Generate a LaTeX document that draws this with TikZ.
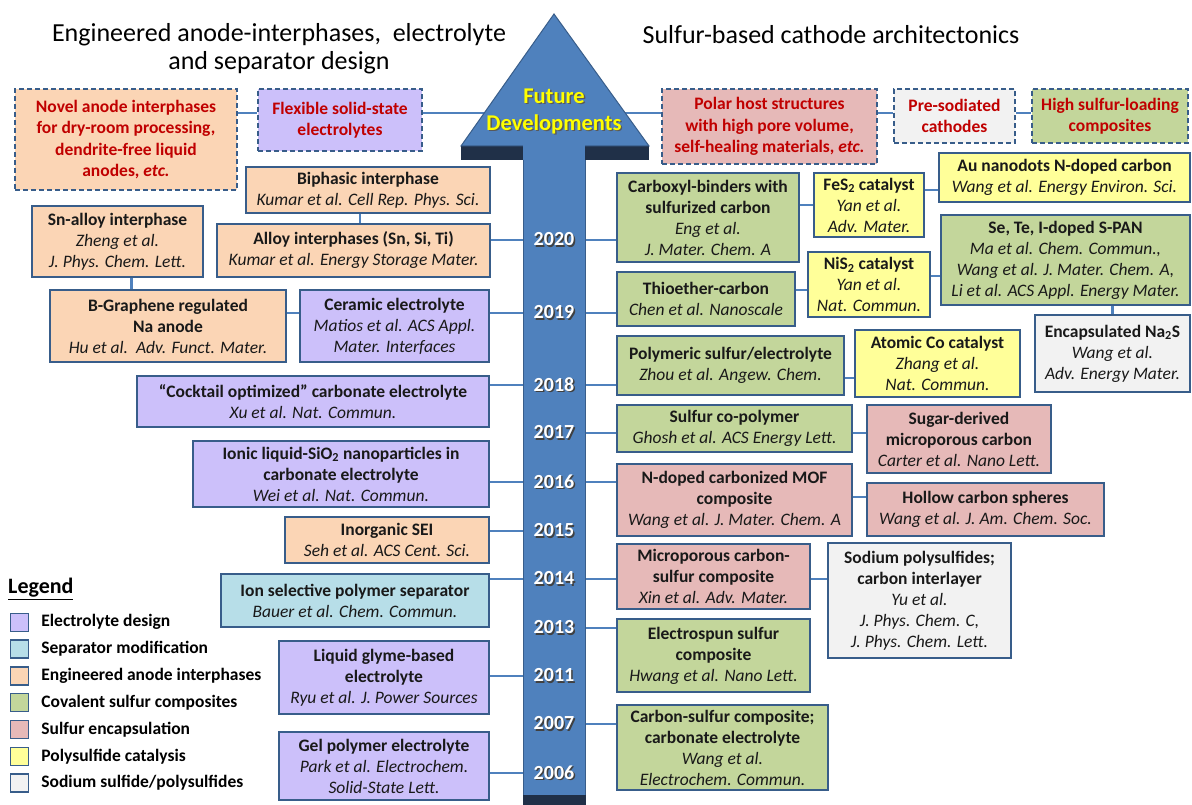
\documentclass[tikz,border=0pt]{standalone}
\usepackage{fontspec}
\setmainfont{Carlito}
\usepackage{xcolor}
\usepackage{tikz}
\usetikzlibrary{positioning}

\definecolor{anodeF}{RGB}{251,213,181}
\definecolor{elecF}{RGB}{204,192,250}
\definecolor{sepF}{RGB}{183,222,232}
\definecolor{covF}{RGB}{195,214,155}
\definecolor{encF}{RGB}{230,185,184}
\definecolor{catF}{RGB}{255,255,153}
\definecolor{nasF}{RGB}{242,242,242}
\definecolor{bdr}{RGB}{56,93,138}
\definecolor{lnk}{RGB}{79,129,189}
\definecolor{arrfill}{RGB}{79,129,189}
\definecolor{arrdark}{RGB}{32,48,72}
\definecolor{planred}{RGB}{192,0,0}
\definecolor{futyel}{RGB}{255,255,0}

\newcommand{\shd}[2]{\makebox[0pt][l]{\hspace{1.4pt}\raisebox{-1.4pt}{\textcolor{#2}{#1}}}#1}

\begin{document}
\begin{tikzpicture}[x=1pt, y=-1pt,
  box/.style={draw=bdr, line width=1.6pt, align=center, inner sep=1pt, text=black!90, font=\fontsize{17.5}{21}\selectfont},
  wh/.style 2 args={minimum width=#1, minimum height=#2},
  anode/.style={box, fill=anodeF},
  elec/.style={box, fill=elecF},
  sepr/.style={box, fill=sepF},
  cov/.style={box, fill=covF},
  enc/.style={box, fill=encF},
  cat/.style={box, fill=catF},
  nas/.style={box, fill=nasF},
  plan/.style={dash pattern=on 5pt off 3pt, text=planred, font=\fontsize{17.5}{21.5}\selectfont\bfseries},
  link/.style={draw=lnk, line width=2.6pt},
  ttl/.style={align=center, inner sep=0pt, font=\fontsize{26}{28}\selectfont},
  yearlbl/.style={text=white, inner sep=0pt, font=\fontsize{20}{24}\selectfont\bfseries},
  futlbl/.style={text=futyel, align=center, inner sep=0pt, font=\fontsize{22.5}{27}\selectfont\bfseries},
  legsq/.style={draw=bdr, line width=1.4pt, minimum size=18pt, inner sep=0pt},
  legtxt/.style={inner sep=0pt, font=\fontsize{17.5}{20}\selectfont\bfseries}]

  \fill[white] (0,0) rectangle (1192,805);
  \useasboundingbox (0,0) rectangle (1192,805);

  \node[ttl] (ttlL) at (279,49) {Engineered anode-interphases,~ electrolyte\\and separator design};
  \node[ttl] (ttlR) at (831,35) {Sulfur-based cathode architectonics};

  % future directions
  \node[anode, plan, wh={222}{101}] (novel) at (126,139.5) {Novel anode interphases\\for dry-room processing,\\dendrite-free liquid\\anodes, \textit{etc.}};
  \node[elec, plan, wh={164}{62}] (flex) at (340,120) {Flexible solid-state\\electrolytes};
  \node[enc, plan, wh={215}{75}] (polar) at (769.5,126.5) {Polar host structures\\with high pore volume,\\self-healing materials, \textit{etc.}};
  \node[nas, plan, wh={121}{54}] (presod) at (954.5,116) {Pre-sodiated\\cathodes};
  \node[cov, plan, wh={156}{54}] (highs) at (1110,116) {High sulfur-loading\\composites};

  % left column
  \node[anode, wh={244}{46}] (biphasic) at (368,190) {\textbf{Biphasic interphase}\\\textit{Kumar et al. Cell Rep. Phys. Sci.}};
  \node[anode, wh={273}{53}] (alloy) at (353.5,250.5) {\textbf{Alloy interphases (Sn, Si, Ti)}\\\textit{Kumar et al. Energy Storage Mater.}};
  \node[anode, wh={171}{71}] (snalloy) at (117.5,241.5) {\textbf{Sn-alloy interphase}\\\textit{Zheng et al.}\\\textit{J. Phys. Chem. Lett.}};
  \node[anode, wh={236}{72}] (bgraph) at (168,326) {\textbf{B-Graphene regulated}\\\textbf{Na anode}\\\textit{Hu et al.\ \ Adv. Funct. Mater.}};
  \node[elec, wh={189}{72}] (ceramic) at (394.5,326) {\textbf{Ceramic electrolyte}\\\textit{Matios et al. ACS Appl.}\\\textit{Mater. Interfaces}};
  \node[elec, wh={352}{51}] (cocktail) at (313,401.5) {\textbf{“Cocktail optimized” carbonate electrolyte}\\\textit{Xu et al. Nat. Commun.}};
  \node[elec, wh={296}{66}] (ionic) at (341,474) {\textbf{Ionic liquid-SiO\textsubscript{2} nanoparticles in}\\\textbf{carbonate electrolyte}\\\textit{Wei et al. Nat. Commun.}};
  \node[anode, wh={204}{46}] (sei) at (387,540) {\textbf{Inorganic SEI}\\\textit{Seh et al. ACS Cent. Sci.}};
  \node[sepr, wh={268}{53}] (ionsel) at (355,600.5) {\textbf{Ion selective polymer separator}\\\textit{Bauer et al. Chem. Commun.}};
  \node[elec, wh={210}{73}] (glyme) at (384,677.5) {\textbf{Liquid glyme-based}\\\textbf{electrolyte}\\\textit{Ryu et al. J. Power Sources}};
  \node[elec, wh={210}{68}] (gel) at (384,766) {\textbf{Gel polymer electrolyte}\\\textit{Park et al. Electrochem.}\\\textit{Solid-State Lett.}};

  % right column
  \node[cov, wh={182}{89}] (carboxyl) at (708,217.5) {\textbf{Carboxyl-binders with}\\\textbf{sulfurized carbon}\\\textit{Eng et al.}\\\textit{J. Mater. Chem. A}};
  \node[cat, wh={110}{64}] (fes2) at (869,205) {\textbf{FeS\textsubscript{2} catalyst}\\\textit{Yan et al.}\\\textit{Adv. Mater.}};
  \node[cat, wh={251}{49}] (au) at (1064.5,177.5) {\textbf{Au nanodots N-doped carbon}\\\textit{Wang et al. Energy Environ. Sci.}};
  \node[cov, wh={178}{54}] (thio) at (706,299) {\textbf{Thioether-carbon}\\\textit{Chen et al. Nanoscale}};
  \node[cat, wh={122}{65}] (nis2) at (869,284.5) {\textbf{NiS\textsubscript{2} catalyst}\\\textit{Yan et al.}\\\textit{Nat. Commun.}};
  \node[cov, wh={249}{90}] (sepan) at (1065.5,260) {\textbf{Se, Te, I-doped S-PAN}\\\textit{Ma et al. Chem. Commun.,}\\\textit{Wang et al. J. Mater. Chem. A,}\\\textit{Li et al. ACS Appl. Energy Mater.}};
  \node[nas, wh={155}{77}] (na2s) at (1112.5,353.5) {\textbf{Encapsulated Na\textsubscript{2}S}\\\textit{Wang et al.}\\\textit{Adv. Energy Mater.}};
  \node[cov, wh={227}{59}] (polym) at (730.5,365.5) {\textbf{Polymeric sulfur/electrolyte}\\\textit{Zhou et al. Angew. Chem.}};
  \node[cat, wh={165}{67}] (atomco) at (937.5,363.5) {\textbf{Atomic Co catalyst}\\\textit{Zhang et al.}\\\textit{Nat. Commun.}};
  \node[cov, wh={235}{47}] (copoly) at (734.5,428.5) {\textbf{Sulfur co-polymer}\\\textit{Ghosh et al. ACS Energy Lett.}};
  \node[enc, wh={184}{68}] (sugar) at (959,439) {\textbf{Sugar-derived}\\\textbf{microporous carbon}\\\textit{Carter et al. Nano Lett.}};
  \node[enc, wh={235}{72}] (mof) at (734.5,500) {\textbf{N-doped carbonized MOF}\\\textbf{composite}\\\textit{Wang et al. J. Mater. Chem. A}};
  \node[enc, wh={237}{53}] (hollow) at (985.5,509.5) {\textbf{Hollow carbon spheres}\\\textit{Wang et al. J. Am. Chem. Soc.}};
  \node[enc, wh={193}{65}] (microp) at (713.5,576.5) {\textbf{Microporous carbon-}\\\textbf{sulfur composite}\\\textit{Xin et al. Adv. Mater.}};
  \node[nas, wh={183}{115}] (sodium) at (919.5,600.5) {\textbf{Sodium polysulfides;}\\\textbf{carbon interlayer}\\\textit{Yu et al.}\\\textit{J. Phys. Chem. C,}\\\textit{J. Phys. Chem. Lett.}};
  \node[cov, wh={193}{73}] (espun) at (713.5,655.5) {\textbf{Electrospun sulfur}\\\textbf{composite}\\\textit{Hwang et al. Nano Lett.}};
  \node[cov, wh={211}{85}] (csc) at (722.5,747.5) {\textbf{Carbon-sulfur composite;}\\\textbf{carbonate electrolyte}\\\textit{Wang et al.}\\\textit{Electrochem. Commun.}};

  \foreach \yr/\yy in {2020/240, 2019/313, 2018/385, 2017/433, 2016/482, 2015/531, 2014/579, 2013/628, 2011/676, 2007/724, 2006/773}
    \coordinate (c\yr) at (554,\yy);
  \coordinate (cfut) at (554,113);

  % connectors
  \draw[link] (novel.east |- cfut) -- (flex.west |- cfut);
  \draw[link] (flex.east |- cfut) -- (polar.west |- cfut);
  \draw[link] (polar.east |- cfut) -- (presod.west |- cfut);
  \draw[link] (presod.east |- cfut) -- (highs.west |- cfut);

  \draw[link] ([xshift=-8pt]biphasic.south) -- ([xshift=-8pt]biphasic.south |- alloy.north);
  \draw[link] ([xshift=14pt]snalloy.south) -- ([xshift=14pt]snalloy.south |- bgraph.north);
  \draw[link] (bgraph.east |- c2019) -- (ceramic.west |- c2019);
  \draw[link] (carboxyl.east |- fes2.west) -- (fes2.west);
  \draw[link] (fes2.east |- 0,190) -- (au.west |- 0,190);
  \draw[link] (thio.east |- 0,290) -- (nis2.west |- 0,290);
  \draw[link] (nis2.east |- 0,276) -- (sepan.west |- 0,276);
  \draw[link] (sepan.south -| na2s.north) -- (na2s.north);
  \draw[link] (polym.east |- 0,378) -- (atomco.west |- 0,378);
  \draw[link] (copoly.east |- c2017) -- (sugar.west |- c2017);
  \draw[link] (mof.east |- 0,497) -- (hollow.west |- 0,497);
  \draw[link] (microp.east |- c2014) -- (sodium.west |- c2014);

  \draw[link] (alloy.east |- c2020) -- (c2020) -- (carboxyl.west |- c2020);
  \draw[link] (ceramic.east |- c2019) -- (c2019) -- (thio.west |- c2019);
  \draw[link] (cocktail.east |- c2018) -- (c2018) -- (polym.west |- c2018);
  \draw[link] (c2017) -- (copoly.west |- c2017);
  \draw[link] (ionic.east |- c2016) -- (c2016) -- (mof.west |- c2016);
  \draw[link] (sei.east |- c2015) -- (c2015);
  \draw[link] (ionsel.east |- c2014) -- (c2014) -- (microp.west |- c2014);
  \draw[link] (c2013) -- (espun.west |- c2013);
  \draw[link] (glyme.east |- c2011) -- (c2011);
  \draw[link] (c2007) -- (csc.west |- c2007);
  \draw[link] (gel.east |- c2006) -- (c2006);

  % timeline arrow
  \fill[arrdark] (461,146) rectangle (649,160);
  \filldraw[fill=arrfill, draw=bdr, line width=1pt] (461,146) -- (554,14) -- (649,146) -- cycle;
  \fill[arrfill] (523,145) rectangle (585,795);
  \draw[bdr, line width=1pt] (523,160) -- (523,795) (585,160) -- (585,795);
  \fill[arrdark] (522.5,795) rectangle (585.5,805);

  \node[futlbl] (futtxt) at (554,112) {\shd{Future}{black!65}\\\shd{Developments}{black!65}};
  \foreach \yr in {2020,2019,2018,2017,2016,2015,2014,2013,2011,2007,2006}
    \node[yearlbl] (y\yr) at (c\yr) {\shd{\yr}{black!75}};

  % legend
  \node[anchor=west, inner sep=0pt, font=\fontsize{22}{24}\selectfont\bfseries] (leg) at (8,589) {\underline{Legend}};
  \foreach \col/\txt [count=\i] in {elecF/Electrolyte design, sepF/Separator modification, anodeF/Engineered anode interphases, covF/Covalent sulfur composites, encF/Sulfur encapsulation, catF/Polysulfide catalysis, nasF/{Sodium sulfide/polysulfides}} {
    \node[legsq, fill=\col] (sq\i) at (19.5,595.5+26.8*\i) {};
    \node[legtxt, right=12pt of sq\i] (lt\i) {\txt};
  }
\end{tikzpicture}
\end{document}
